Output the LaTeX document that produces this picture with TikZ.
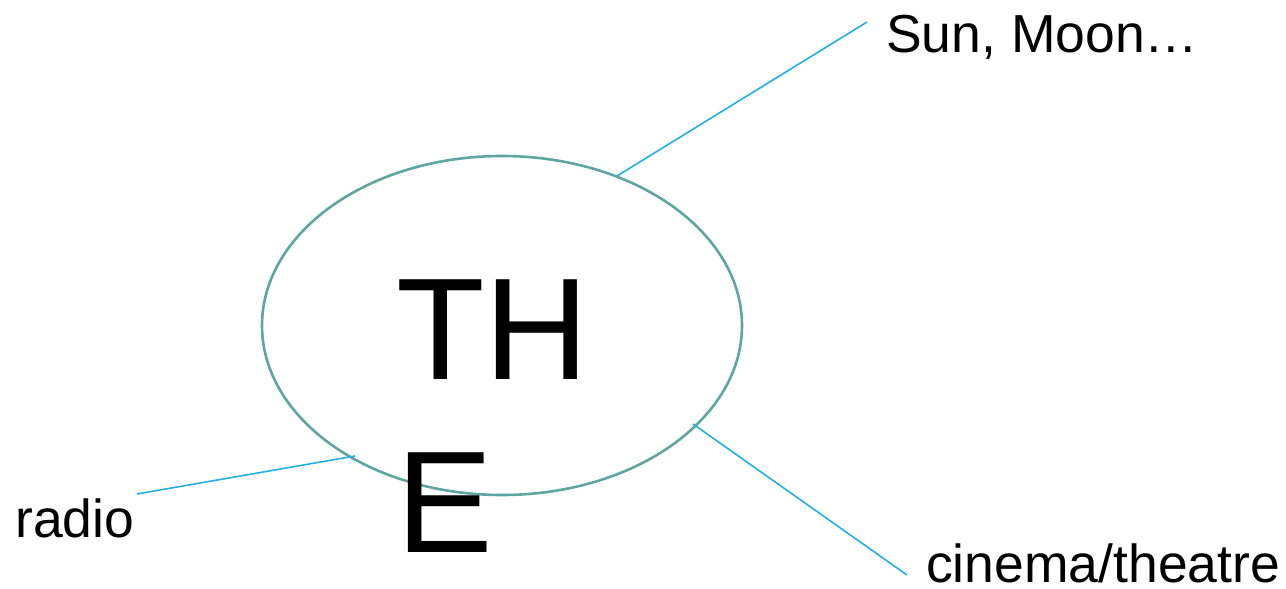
\documentclass[tikz,border=0pt]{standalone}
\usepackage{fontspec}
\setmainfont{Liberation Sans}
\usetikzlibrary{shapes.geometric}
\definecolor{rimteal}{RGB}{95,165,160}
\definecolor{linkblue}{RGB}{34,174,230}

\begin{document}
\begin{tikzpicture}[x=1pt,y=-1pt]
	\tikzset{rim/.style = {shape=ellipse,draw=rimteal,line width=2.6pt,
			minimum width=480pt,minimum height=339pt,inner sep=0pt}}
	\tikzset{label/.style = {inner sep=0pt,anchor=base west,
			font=\fontsize{53.5}{64}\selectfont}}
	\tikzset{link/.style = {-,draw=linkblue,line width=1.6pt}}
	\useasboundingbox (0,0) rectangle (1286,589);
    % ellipse and big word
    \node[rim] (ell) at (502,325.5) {};
    \node[inner sep=0pt,anchor=base west,align=left,
          font=\fontsize{145}{173}\selectfont] (word) at (396,552) {TH\\E};
    % labels
    \node[label] (sun) at (886,52) {Sun, Moon…};
    \node[label] (radio) at (15,537) {radio};
    \node[label] (cinema) at (926,582) {cinema/theatre};
    % line ends
    \coordinate (sunA) at (617,176);
    \coordinate (sunB) at (867,22);
    \coordinate (radioA) at (355,456);
    \coordinate (radioB) at (137,494);
    \coordinate (cinemaA) at (693,424);
    \coordinate (cinemaB) at (907,575);
    %links
	\draw[link] (sunA) -- (sunB);
	\draw[link] (radioA) -- (radioB);
	\draw[link] (cinemaA) -- (cinemaB);
\end{tikzpicture}
\end{document}
